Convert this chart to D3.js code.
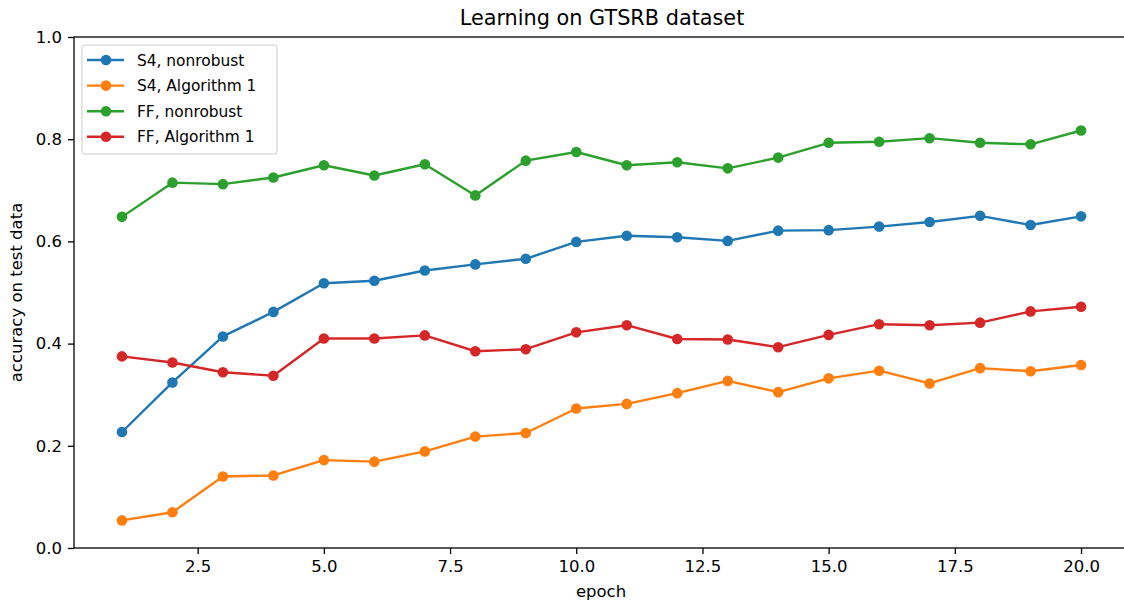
<!DOCTYPE html>
<html>
<head>
<meta charset="utf-8">
<script src="https://cdn.jsdelivr.net/npm/d3@7"></script>
<style>
  body { margin: 0; background: #fff; }
  text { font-family: "DejaVu Sans", sans-serif; fill: #000; }
</style>
</head>
<body>
<div id="viz"></div>
<script>
// data
var epochs = [1,2,3,4,5,6,7,8,9,10,11,12,13,14,15,16,17,18,19,20];
var s4Nonrobust = [0.227,0.324,0.414,0.462,0.518,0.523,0.543,0.555,0.566,0.599,0.611,0.608,0.601,0.621,0.622,0.629,0.638,0.650,0.632,0.649];
var s4Alg1 = [0.054,0.070,0.140,0.142,0.172,0.169,0.189,0.218,0.225,0.273,0.282,0.303,0.327,0.305,0.332,0.347,0.322,0.352,0.346,0.358];
var ffNonrobust = [0.648,0.715,0.712,0.725,0.749,0.729,0.751,0.690,0.758,0.775,0.749,0.755,0.743,0.764,0.793,0.795,0.802,0.793,0.790,0.817];
var ffAlg1 = [0.375,0.363,0.344,0.337,0.410,0.410,0.416,0.385,0.389,0.422,0.436,0.409,0.408,0.393,0.417,0.438,0.436,0.441,0.463,0.472];
var seriesNames = ["S4, nonrobust", "S4, Algorithm 1", "FF, nonrobust", "FF, Algorithm 1"];
var colors = ["#1f77b4", "#ff7f0e", "#2ca02c", "#d62728"];
var xTicks = [2.5, 5.0, 7.5, 10.0, 12.5, 15.0, 17.5, 20.0];
var yTicks = [0.0, 0.2, 0.4, 0.6, 0.8, 1.0];

var allSeries = [s4Nonrobust, s4Alg1, ffNonrobust, ffAlg1];

var width = 1124, height = 603;
var m = {left: 74, top: 37, right: 1129, bottom: 548};
var fs = "16.5px";

var svg = d3.select("#viz")
    .append("svg")
    .attr("width", width)
    .attr("height", height);

var x = d3.scaleLinear().domain([0.05, 20.95]).range([m.left, m.right]);
var y = d3.scaleLinear().domain([0, 1]).range([m.bottom, m.top]);

// lines + markers
var line = d3.line()
    .x(function(d, i) { return x(epochs[i]); })
    .y(function(d) { return y(d); });

allSeries.forEach(function(s, k) {
    svg.append("path")
        .datum(s)
        .attr("d", line)
        .attr("fill", "none")
        .attr("stroke", colors[k])
        .attr("stroke-width", 2.4)
        .attr("stroke-linejoin", "round");
    svg.selectAll(".pt" + k)
        .data(s)
        .enter().append("circle")
        .attr("class", "pt" + k)
        .attr("cx", function(d, i) { return x(epochs[i]); })
        .attr("cy", function(d) { return y(d); })
        .attr("r", 5.3)
        .attr("fill", colors[k]);
});

// frame
svg.append("rect")
    .attr("x", m.left).attr("y", m.top)
    .attr("width", m.right - m.left).attr("height", m.bottom - m.top)
    .attr("fill", "none").attr("stroke", "#000").attr("stroke-width", 1.3);

// axes
var xAxis = svg.append("g")
    .attr("transform", "translate(0," + m.bottom + ")")
    .call(d3.axisBottom(x).tickValues(xTicks).tickFormat(d3.format(".1f")).tickSizeOuter(0).tickSize(6).tickPadding(6));
var yAxis = svg.append("g")
    .attr("transform", "translate(" + m.left + ",0)")
    .call(d3.axisLeft(y).tickValues(yTicks).tickFormat(d3.format(".1f")).tickSizeOuter(0).tickSize(6).tickPadding(6));
[xAxis, yAxis].forEach(function(a) {
    a.select(".domain").remove();
    a.selectAll("line").attr("stroke", "#000").attr("stroke-width", 1.3);
    a.selectAll("text").style("font-size", fs).style("font-family", "DejaVu Sans, sans-serif").attr("fill", "#222");
});

// title and labels
svg.append("text")
    .attr("x", 602).attr("y", 25)
    .attr("text-anchor", "middle")
    .style("font-size", "20.8px")
    .text("Learning on GTSRB dataset");

svg.append("text")
    .attr("x", 601).attr("y", 597)
    .attr("text-anchor", "middle")
    .style("font-size", fs)
    .text("epoch");

svg.append("text")
    .attr("transform", "translate(22," + ((m.top + m.bottom) / 2) + ") rotate(-90)")
    .attr("text-anchor", "middle")
    .style("font-size", fs)
    .text("accuracy on test data");

// legend
var legend = svg.append("g").attr("transform", "translate(82,45)");
legend.append("rect")
    .attr("width", 195).attr("height", 109)
    .attr("rx", 3)
    .attr("fill", "#fff").attr("fill-opacity", 0.8)
    .attr("stroke", "#ccc");
seriesNames.forEach(function(name, k) {
    var g = legend.append("g").attr("transform", "translate(0," + (15 + k * 25.6) + ")");
    g.append("line").attr("x1", 5).attr("x2", 42).attr("y1", 0).attr("y2", 0)
        .attr("stroke", colors[k]).attr("stroke-width", 2.4);
    g.append("circle").attr("cx", 24).attr("cy", 0).attr("r", 5.3).attr("fill", colors[k]);
    g.append("text").attr("x", 55).attr("y", 5.5)
        .style("font-size", "15.4px").attr("fill", "#222").text(name);
});
</script>
</body>
</html>
